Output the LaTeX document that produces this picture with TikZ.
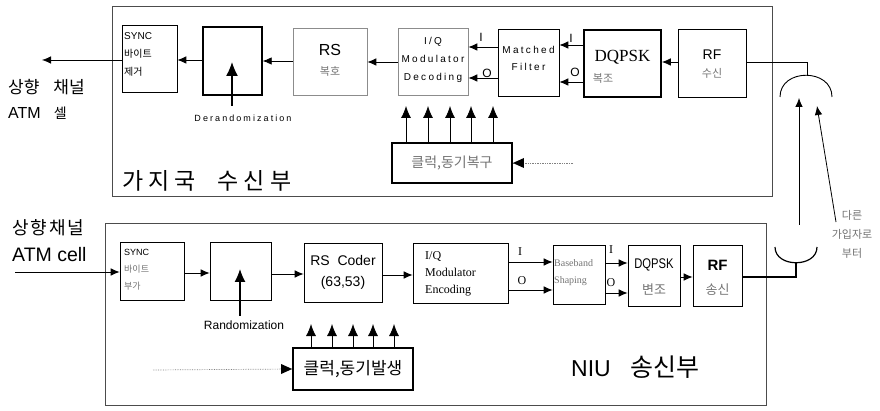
\documentclass[tikz,border=0pt]{standalone}
\usepackage{fontspec}
\setmainfont{Liberation Sans}
\newfontfamily\kr{Noto Sans CJK KR}
\newfontfamily\srf{Liberation Serif}
\newfontfamily\sps[LetterSpace=23]{Liberation Sans}
\usetikzlibrary{arrows.meta}
\begin{document}
\begin{tikzpicture}[x=1pt,y=-1pt,
  font=\fontsize{10}{12}\selectfont,
  blk/.style={draw, line width=0.6pt, inner sep=0pt, align=center},
  faintblk/.style={blk, draw=black!45},
  thk/.style={blk, line width=1.6pt},
  arr/.style={-{Latex[length=9pt,width=7.5pt]}, line width=0.8pt},
  bigarr/.style={-{Latex[length=12pt,width=10pt]}, line width=0.8pt},
  frame/.style={draw=black!70, line width=0.6pt},
  lbl/.style={inner sep=0pt},
  faint/.style={text=black!55}]
\useasboundingbox (0,0) rectangle (880,411);

% frames
\draw[frame] (112,6) rectangle (772,196);
\draw[frame] (105,223) rectangle (766,405);

% ---------- top (receiver) ----------
\node[blk, minimum width=55pt, minimum height=67pt] (sync1) at (149.5,58.5) {};
\node[lbl, anchor=north west, align=left, font=\fontsize{10}{18}\selectfont] (sync1t) at (124,32) {SYNC\\{\kr 바이트}\\{\kr 제거}};
\node[blk, line width=1.3pt, minimum width=59pt, minimum height=68pt] (der1) at (232.5,61) {};
\node[faintblk, minimum width=74pt, minimum height=67pt] (rs1) at (330,61.5) {};
\node[lbl, font=\fontsize{16}{18}\selectfont] (rs1a) at (330,50) {RS};
\node[lbl, faint, font=\kr\fontsize{11}{12}\selectfont] (rs1b) at (330,71) {복호};
\node[faintblk, minimum width=70pt, minimum height=67pt] (iq1) at (433,61.5) {};
\node[lbl, align=center, font=\sps\fontsize{10}{18}\selectfont] (iq1t) at (433,60) {I/Q\\Modulator\\Decoding};
\node[blk, minimum width=61pt, minimum height=67pt] (mf) at (528.5,62.5) {};
\node[lbl, align=center, font=\sps\fontsize{10}{17}\selectfont] (mft) at (528.5,58) {Matched\\Filter};
\node[thk, minimum width=77pt, minimum height=67pt] (dq1) at (622.5,63.5) {};
\node[lbl, font=\srf\fontsize{17}{19}\selectfont] (dq1a) at (622.5,57) {DQPSK};
\node[lbl, faint, font=\kr\fontsize{11}{12}\selectfont] (dq1b) at (603,78) {복조};
\node[blk, minimum width=68pt, minimum height=68pt] (rf1) at (712,63) {};
\node[lbl, font=\fontsize{14}{16}\selectfont] (rf1a) at (712,55) {RF};
\node[lbl, faint, font=\kr\fontsize{11}{12}\selectfont] (rf1b) at (712,73) {수신};

\draw[arr] (rf1.west |- 0,62) -- (dq1.east |- 0,62);
\draw[arr] (dq1.west |- 0,45) -- (mf.east |- 0,45);
\draw[arr] (dq1.west |- 0,82) -- (mf.east |- 0,82);
\node[lbl, font=\fontsize{12}{14}\selectfont] (li1) at (571,38) {I};
\node[lbl, font=\fontsize{12}{14}\selectfont] (lo1) at (575,72) {O};
\draw[arr] (mf.west |- 0,47) -- (iq1.east |- 0,47);
\draw[arr] (mf.west |- 0,78) -- (iq1.east |- 0,78);
\node[lbl, font=\fontsize{12}{14}\selectfont] (li2) at (481,37) {I};
\node[lbl, font=\fontsize{12}{14}\selectfont] (lo2) at (487,73) {O};
\draw[arr] (iq1.west |- 0,62) -- (rs1.east |- 0,62);
\draw[arr] (rs1.west |- 0,61) -- (der1.east |- 0,61);
\draw[arr] (der1.west |- 0,60) -- (sync1.east |- 0,60);
\coordinate (out1) at (42,60);
\draw[arr] (sync1.west |- 0,60) -- (out1);

\coordinate (der1in) at (232,106);
\coordinate (der1tip) at (232,62);
\draw[-{Latex[length=14pt,width=12pt]}, line width=1.3pt] (der1in) -- (der1tip);
\node[lbl, font=\sps\fontsize{9}{11}\selectfont] (derl) at (243,118) {Derandomization};

\node[lbl, anchor=west, font=\kr\fontsize{17}{19}\selectfont] (lt0) at (8,87) {상향\hspace{14pt}채널};
\node[lbl, anchor=west, font=\fontsize{16}{18}\selectfont] (lt2) at (8,113) {ATM\hspace{13pt}{\kr\fontsize{14}{16}\selectfont 셀}};
\node[lbl, anchor=west, font=\kr\fontsize{23}{26}\selectfont] (frm1) at (122,181) {가\hspace{5pt}지\hspace{5pt}국\hspace{22pt}수\hspace{5pt}신\hspace{5pt}부};

% top clock
\node[thk, line width=1.8pt, minimum width=120pt, minimum height=40pt, faint, font=\kr\fontsize{14}{16}\selectfont] (ck1) at (452,163) {클럭,동기복구};
\foreach \xx in {406,428,450,471,493}
  \draw[bigarr] (ck1.north -| \xx,0) -- (\xx,106);
\coordinate (ck1in) at (573,163);
\draw[densely dotted, black!50, line width=0.7pt] (ck1in) -- (ck1.east);
\fill (ck1.east) -- ++(11,-5) -- ++(0,10) -- cycle;

% ---------- bottom (transmitter) ----------
\node[blk, minimum width=64pt, minimum height=58pt] (sync2) at (152,271) {};
\node[lbl, anchor=north west, align=left, font=\fontsize{9}{17}\selectfont] (sync2t) at (124,249) {SYNC\\{\kr\color{black!55}바이트}\\{\kr\color{black!55}부가}};
\node[blk, minimum width=61pt, minimum height=58pt] (rnd) at (240.5,271) {};
\node[blk, minimum width=78pt, minimum height=59pt, font=\fontsize{14}{21}\selectfont] (rs2) at (343,272.5) {RS~ Coder\\(63,53)};
\node[blk, minimum width=95pt, minimum height=60pt] (iq2) at (460.5,273) {};
\node[lbl, anchor=north west, align=left, font=\srf\fontsize{12}{17}\selectfont] (iq2t) at (425,251) {I/Q\\Modulator\\Encoding};
\node[blk, minimum width=52pt, minimum height=59pt] (bb) at (579,274.5) {};
\node[lbl, anchor=north west, align=left, faint, font=\srf\fontsize{10}{17}\selectfont] (bbt) at (554,259) {Baseband\\Shaping};
\node[blk, minimum width=52pt, minimum height=61pt] (dq2) at (654,275.5) {};
\node[lbl, font=\fontsize{14}{16}\selectfont] (dq2a) at (654,265) {\addfontfeature{FakeStretch=0.8}DQPSK};
\node[lbl, faint, font=\kr\fontsize{13}{15}\selectfont] (dq2b) at (654,290) {변조};
\node[blk, minimum width=49pt, minimum height=61pt] (rf2) at (717.5,275.5) {};
\node[lbl, font=\bfseries\fontsize{15}{17}\selectfont] (rf2a) at (717.5,265) {RF};
\node[lbl, faint, font=\kr\fontsize{13}{15}\selectfont] (rf2b) at (717.5,290) {송신};

\coordinate (in2) at (15,272);
\draw[arr] (in2) -- (sync2.west |- 0,272);
\draw[arr] (sync2.east |- 0,273) -- (rnd.west |- 0,273);
\draw[arr] (rnd.east |- 0,274) -- (rs2.west |- 0,274);
\draw[arr] (rs2.east |- 0,275) -- (iq2.west |- 0,275);
\draw[arr] (iq2.east |- 0,262) -- (bb.west |- 0,262);
\draw[arr] (iq2.east |- 0,290) -- (bb.west |- 0,290);
\node[lbl, font=\srf\fontsize{12}{14}\selectfont] (li3) at (520,252) {I};
\node[lbl, font=\srf\fontsize{12}{14}\selectfont] (lo3) at (522,281) {O};
\draw[arr] (bb.east |- 0,263) -- (dq2.west |- 0,263);
\draw[arr] (bb.east |- 0,293) -- (dq2.west |- 0,293);
\node[lbl, font=\srf\fontsize{12}{14}\selectfont] (li4) at (611,250) {I};
\node[lbl, font=\srf\fontsize{12}{14}\selectfont] (lo4) at (611,283) {O};
\draw[arr] (dq2.east |- 0,277) -- (rf2.west |- 0,277);

\coordinate (rndin) at (240,316);
\coordinate (rndtip) at (240,269);
\draw[-{Latex[length=13pt,width=11pt]}, line width=1.2pt] (rndin) -- (rndtip);
\node[lbl, font=\fontsize{12}{14}\selectfont] (rndl) at (244,325) {Randomization};

\node[lbl, anchor=west, font=\kr\fontsize{18}{20}\selectfont] (lb0) at (12,228) {상\hspace{2pt}향\hspace{2pt}채\hspace{2pt}널};
\node[lbl, anchor=west, font=\fontsize{19.5}{22}\selectfont] (lb1) at (12,255) {ATM cell};
\node[lbl, anchor=west, font=\fontsize{23}{26}\selectfont] (frm2) at (571,367) {NIU\hspace{20pt}{\kr\fontsize{25}{27}\selectfont 송신부}};

% bottom clock
\node[thk, line width=1.8pt, minimum width=120pt, minimum height=42pt, font=\kr\fontsize{17}{19}\selectfont] (ck2) at (353,369) {클럭,동기발생};
\foreach \xx in {311,332,353,373,394}
  \draw[bigarr] (ck2.north -| \xx,0) -- (\xx,324);
\coordinate (ck2in) at (153,370);
\draw[densely dotted, black!50, line width=0.7pt] (ck2in) -- (ck2.west);
\fill (ck2.west) -- ++(-11,-5) -- ++(0,10) -- cycle;

% ---------- antenna ----------
\coordinate (cup1top) at (807,75);
\draw[line width=0.9pt] (rf1.east |- 0,62) -- (807,62) -- (cup1top);
\draw[line width=0.9pt] (780,97) .. controls (780,68) and (832,68) .. (832,97);
\coordinate (cup2bot) at (796,263);
\draw[line width=1.2pt] (775,247) .. controls (775,268) and (817,268) .. (817,247);
\draw[line width=1.2pt] (cup2bot) -- (796,277) -- (rf2.east |- 0,277);
\coordinate (a1s) at (799,225);
\coordinate (a1e) at (799,98);
\draw[arr] (a1s) -- (a1e);
\coordinate (a2s) at (836,222);
\coordinate (a2e) at (817,106);
\draw[arr] (a2s) -- (a2e);
\node[lbl, align=center, faint, font=\kr\fontsize{11}{19}\selectfont] (other) at (852,234) {다른\\가입자로\\부터};
\end{tikzpicture}
\end{document}
